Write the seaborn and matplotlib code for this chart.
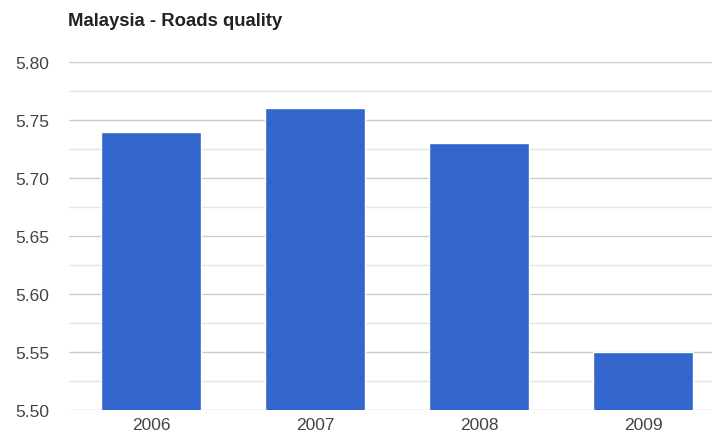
import matplotlib
matplotlib.use("Agg")
import matplotlib.pyplot as plt
import seaborn as sns
import pandas as pd
from matplotlib.ticker import MultipleLocator, FormatStrFormatter

years = ["2006", "2007", "2008", "2009"]
scores = [5.74, 5.76, 5.73, 5.55]

df = pd.DataFrame({"year": years, "score": scores})

sns.set_theme(style="white")
plt.rcParams["font.family"] = ["Liberation Sans", "DejaVu Sans"]

fig = plt.figure(figsize=(7.12, 4.39), dpi=100)
ax = fig.add_axes([69 / 712, 1 - 411 / 439, 1 - 69 / 712, (411 - 63) / 439])

sns.barplot(data=df, x="year", y="score", color="#3366cc", saturation=1,
            width=0.61, ax=ax, zorder=3)

ax.set_ylim(5.50, 5.80)
ax.set_xlim(-0.5, 3.42)
ax.yaxis.set_major_locator(MultipleLocator(0.05))
ax.yaxis.set_minor_locator(MultipleLocator(0.025))
ax.grid(axis="y", which="major", color="#cccccc", linewidth=1, zorder=0)
ax.grid(axis="y", which="minor", color="#e4e4e4", linewidth=1, zorder=0)
ax.set_axisbelow(True)
ax.yaxis.set_major_formatter(FormatStrFormatter("%.2f"))

for s in ax.spines.values():
    s.set_visible(False)
ax.tick_params(axis="y", which="both", length=0, pad=14, labelsize=12.5, labelcolor="#444444")
ax.tick_params(axis="x", length=0, pad=5, labelsize=12.5, labelcolor="#444444")
ax.set_xlabel("")
ax.set_ylabel("")

fig.text(68 / 712, 1 - 22 / 439, "Malaysia - Roads quality", fontsize=13.3,
         fontweight="bold", color="#222222", va="center", ha="left")

fig.savefig("out.png", dpi=100)
